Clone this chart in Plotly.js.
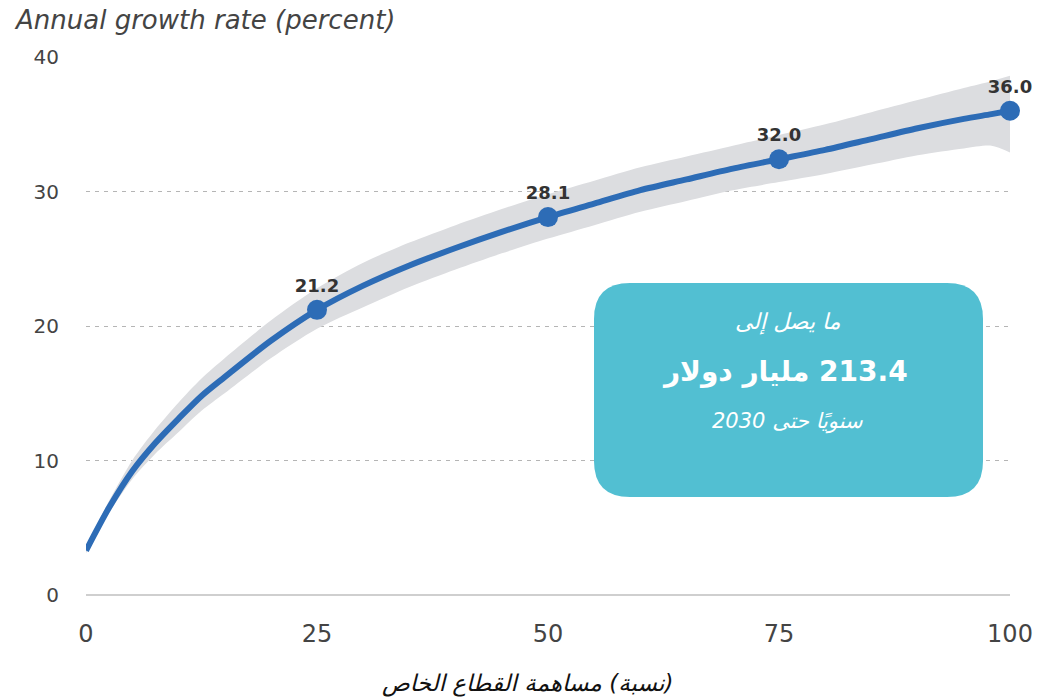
<!DOCTYPE html>
<html>
<head>
<meta charset="utf-8">
<script src="https://cdn.plot.ly/plotly-3.0.1.min.js"></script>
<style>html,body{margin:0;padding:0;background:#fff;}#chart{width:1038px;height:698px;}</style>
</head>
<body>
<div id="chart"></div>
<script>
// Private-sector share (percent)
const shareX = [0, 2.5, 5, 7.5, 10, 12.5, 15, 20, 25, 30, 35, 40, 45, 50, 55, 60, 65, 70, 75, 80, 85, 90, 95, 98, 100];
// Central estimate of annual growth rate (percent)
const growthMid = [3.3, 6.5, 9.2, 11.3, 13.1, 14.8, 16.2, 18.9, 21.2, 23.0, 24.5, 25.8, 27.0, 28.1, 29.1, 30.1, 30.9, 31.7, 32.4, 33.1, 33.9, 34.7, 35.4, 35.75, 36.0];
// Uncertainty band
const growthUpper = [3.5, 7.0, 10.0, 12.3, 14.3, 16.1, 17.6, 20.4, 22.8, 24.7, 26.2, 27.5, 28.7, 29.8, 30.8, 31.8, 32.6, 33.4, 34.2, 35.0, 35.9, 36.8, 37.7, 38.2, 38.6];
const growthLower = [3.1, 6.1, 8.6, 10.5, 12.1, 13.7, 15.0, 17.6, 19.8, 21.4, 22.9, 24.2, 25.4, 26.5, 27.5, 28.5, 29.3, 30.1, 30.7, 31.3, 32.0, 32.7, 33.2, 33.4, 32.9];
// Highlighted points
const pointX = [25, 50, 75, 100];
const pointY = [21.2, 28.1, 32.4, 36.0];
const pointLabels = ["21.2", "28.1", "32.0", "36.0"];
// Axis ticks
const xTicks = [0, 25, 50, 75, 100];
const yTicks = [0, 10, 20, 30, 40];
// Texts
const yTitle = "Annual growth rate (percent)";
const xTitle = "(نسبة) مساهمة القطاع الخاص";
const boxLine1 = "ما يصل إلى";
const boxLine2 = "213.4 مليار دولار";
const boxLine3 = "سنويًا حتى 2030";

const RLM = "\u200F";
const blue = "#2d6cb6";
const W = 1038, H = 698;
const M = {l: 86, r: 28, t: 57, b: 103};
const pw = W - M.l - M.r, ph = H - M.t - M.b;
const px2x = p => (p - M.l) / pw;
const py2y = p => (H - M.b - p) / ph;

// rounded callout box (paper coords)
const bx0 = px2x(594), bx1 = px2x(983), byT = py2y(283), byB = py2y(497);
const rx = 36 / pw, ry = 36 / ph;
const boxPath = `M ${bx0+rx},${byT} L ${bx1-rx},${byT} Q ${bx1},${byT} ${bx1},${byT-ry} ` +
  `L ${bx1},${byB+ry} Q ${bx1},${byB} ${bx1-rx},${byB} L ${bx0+rx},${byB} Q ${bx0},${byB} ${bx0},${byB+ry} ` +
  `L ${bx0},${byT-ry} Q ${bx0},${byT} ${bx0+rx},${byT} Z`;

const traces = [
  {x: shareX, y: growthLower, mode: 'lines', line: {width: 0, color: 'rgba(0,0,0,0)', shape: 'spline', smoothing: 0.8}, hoverinfo: 'skip', showlegend: false},
  {x: shareX, y: growthUpper, mode: 'lines', line: {width: 0, color: 'rgba(0,0,0,0)', shape: 'spline', smoothing: 0.8}, fill: 'tonexty', fillcolor: '#dcdde0', hoverinfo: 'skip', showlegend: false},
  {x: shareX, y: growthMid, mode: 'lines', line: {width: 6, color: blue, shape: 'spline', smoothing: 0.8}, showlegend: false, cliponaxis: false},
  {x: pointX, y: pointY, mode: 'markers+text', text: pointLabels, textposition: 'top center',
   textfont: {family: 'DejaVu Sans', size: 18, color: '#333', weight: 'bold'},
   marker: {size: 20, color: blue}, showlegend: false, cliponaxis: false}
];

const layout = {
  width: W, height: H,
  margin: M,
  paper_bgcolor: '#fff', plot_bgcolor: '#fff',
  showlegend: false,
  xaxis: {
    range: [0, 100], tickvals: xTicks, ticktext: xTicks.map(String),
    showgrid: false, zeroline: false, showline: false, ticks: '',
    ticklabelstandoff: 22,
    tickfont: {family: 'DejaVu Sans', size: 24, color: '#444'}
  },
  yaxis: {
    range: [0, 40], tickvals: yTicks, ticktext: yTicks.map(String),
    showgrid: true, gridcolor: '#b5b5b5', gridwidth: 1, griddash: '4px,5px',
    zeroline: true, zerolinecolor: '#cfcfcf', zerolinewidth: 2,
    showline: false, ticks: '', ticklabelstandoff: 26,
    tickfont: {family: 'DejaVu Sans', size: 20, color: '#444'}
  },
  shapes: [
    {type: 'path', xref: 'paper', yref: 'paper', path: boxPath, fillcolor: '#52bfd2', line: {width: 0}, layer: 'above'}
  ],
  annotations: [
    {text: yTitle, xref: 'paper', yref: 'paper', x: px2x(12), y: py2y(3), xanchor: 'left', yanchor: 'top', showarrow: false,
     font: {family: 'DejaVu Sans', size: 26, color: '#444', style: 'italic'}},
    {text: RLM + xTitle, xref: 'paper', yref: 'paper', x: px2x(527), y: py2y(683), xanchor: 'center', yanchor: 'middle', showarrow: false,
     font: {family: 'DejaVu Sans', size: 23, color: '#111', style: 'italic'}},
    {text: RLM + boxLine1, xref: 'paper', yref: 'paper', x: px2x(788), y: py2y(322), xanchor: 'center', yanchor: 'middle', showarrow: false,
     font: {family: 'DejaVu Sans', size: 22, color: '#fff', style: 'italic'}},
    {text: RLM + boxLine2, xref: 'paper', yref: 'paper', x: px2x(785), y: py2y(372), xanchor: 'center', yanchor: 'middle', showarrow: false,
     font: {family: 'DejaVu Sans', size: 28, color: '#fff', weight: 'bold'}},
    {text: RLM + boxLine3, xref: 'paper', yref: 'paper', x: px2x(787), y: py2y(421), xanchor: 'center', yanchor: 'middle', showarrow: false,
     font: {family: 'DejaVu Sans', size: 21, color: '#fff', style: 'italic'}}
  ]
};

Plotly.newPlot('chart', traces, layout, {displayModeBar: false, staticPlot: true});
</script>
</body>
</html>
